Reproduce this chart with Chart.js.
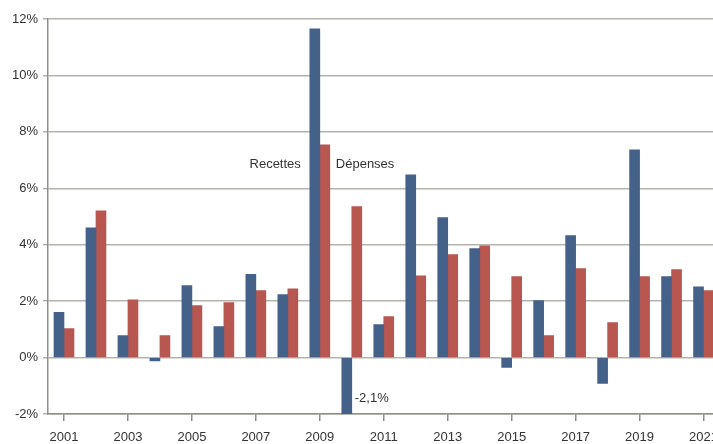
<!DOCTYPE html>
<html>
<head>
<meta charset="utf-8">
<script src="https://cdn.jsdelivr.net/npm/chart.js@4"></script>
<style>
   html, body { margin: 0; padding: 0; background: #fff; overflow: hidden; }
   .wrap { width: 713px; height: 444px; overflow: hidden; }
   .box { width: 727px; height: 444px; }
</style>
</head>
<body>
<div class="wrap"><div class="box"><canvas id="chart"></canvas></div></div>
<script>
// Years on the x axis
const years = ['2001', '2002', '2003', '2004', '2005', '2006', '2007', '2008', '2009', '2010', '2011',
   '2012', '2013', '2014', '2015', '2016', '2017', '2018', '2019', '2020', '2021'];

// Growth rates, in %
const recettes = [1.6, 4.6, 0.78, -0.12, 2.55, 1.1, 2.95, 2.23, 11.65, -2.1, 1.17,
   6.48, 4.96, 3.86, -0.35, 2.02, 4.32, -0.92, 7.36, 2.87, 2.51];
const depenses = [1.03, 5.2, 2.05, 0.78, 1.84, 1.95, 2.37, 2.44, 7.54, 5.35, 1.45,
   2.9, 3.65, 3.96, 2.87, 0.78, 3.15, 1.24, 2.87, 3.12, 2.37];

const yTicks = [-2, 0, 2, 4, 6, 8, 10, 12];

const textFont = "13px 'Liberation Sans', Arial, sans-serif";

// Labels written inside the plot area
const labelsPlugin = {
   id: 'labels',
   afterDatasetsDraw: function (chart) {
      const ctx = chart.ctx;
      const x = chart.scales.x, y = chart.scales.y;
      ctx.save();
      ctx.font = textFont;
      ctx.fillStyle = '#333';
      ctx.textBaseline = 'middle';
      const x09 = x.getPixelForValue(8);
      ctx.textAlign = 'right';
      ctx.fillText('Recettes', x09 - 19, y.getPixelForValue(6.83));
      ctx.textAlign = 'left';
      ctx.fillText('Dépenses', x09 + 16, y.getPixelForValue(6.83));
      ctx.fillText('-2,1%', x.getPixelForValue(9) + 3, y.getPixelForValue(-1.44));
      ctx.restore();
   }
};

new Chart(document.getElementById('chart'), {
   type: 'bar',
   data: {
      labels: years,
      datasets: [
         { label: 'Recettes', data: recettes, backgroundColor: '#44618a', barThickness: 10 },
         { label: 'Dépenses', data: depenses, backgroundColor: '#b85650', barThickness: 10 }
      ]
   },
   options: {
      responsive: true,
      maintainAspectRatio: false,
      animation: false,
      layout: { padding: { top: 19, right: 0, left: 0, bottom: 0 } },
      plugins: { legend: { display: false }, tooltip: { enabled: false } },
      scales: {
         x: {
            grid: {
               offset: false,
               drawOnChartArea: false,
               drawTicks: true,
               tickLength: 7,
               color: (c) => (c.index % 2 === 0 ? '#8f8f88' : 'rgba(0,0,0,0)'),
               lineWidth: 1.5
            },
            border: { color: '#8f8f88', width: 1.5 },
            ticks: {
               autoSkip: false,
               maxRotation: 0,
               padding: 9,
               color: '#333',
               font: { family: "'Liberation Sans', Arial, sans-serif", size: 13 },
               callback: function (v, i) { return i % 2 === 0 ? years[i] : ''; }
            },
            afterFit: function (s) { s.height = 30; }
         },
         y: {
            min: -2,
            max: 12,
            afterBuildTicks: function (s) { s.ticks = yTicks.map(v => ({ value: v })); },
            grid: {
               color: '#b3b3ab',
               lineWidth: 1.5,
               tickLength: 5,
               drawTicks: true
            },
            border: { color: '#8f8f88', width: 1.5 },
            ticks: {
               padding: 5,
               color: '#333',
               font: { family: "'Liberation Sans', Arial, sans-serif", size: 13 },
               callback: function (v) { return v + '%'; }
            },
            afterFit: function (s) { s.width = 48; }
         }
      }
   },
   plugins: [labelsPlugin]
});
</script>
</body>
</html>
